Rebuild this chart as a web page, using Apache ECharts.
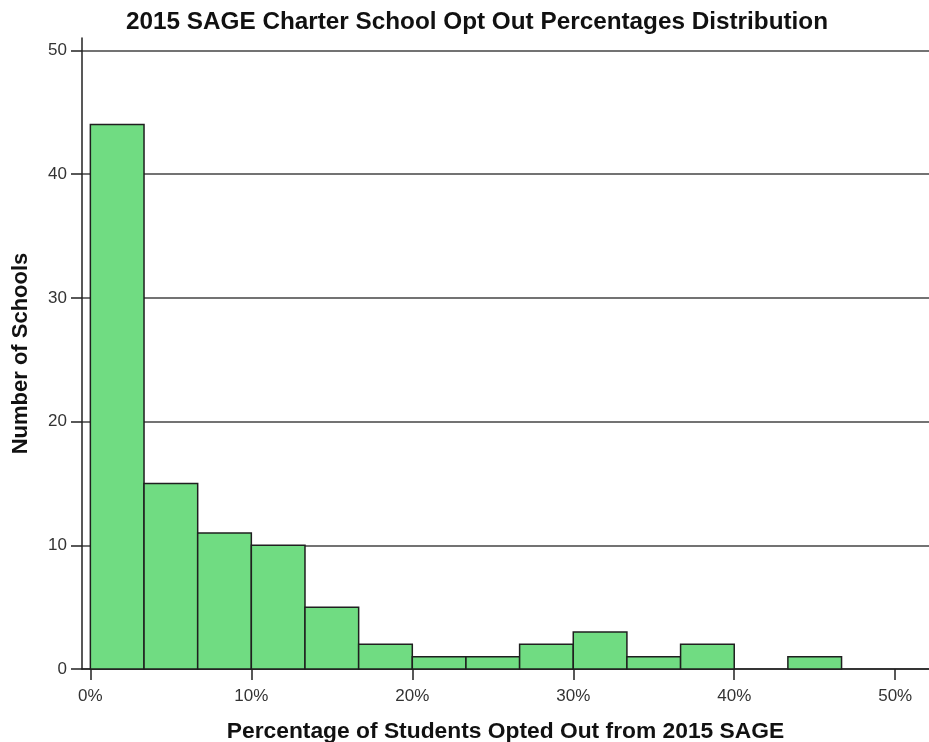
<!DOCTYPE html>
<html>
<head>
<meta charset="utf-8">
<script src="https://cdn.jsdelivr.net/npm/echarts@6/dist/echarts.min.js"></script>
<style>html,body{margin:0;padding:0;background:#fff}#c{width:929px;height:742px}</style>
</head>
<body>
<div id="c"></div>
<script>
const titleText = '2015 SAGE Charter School Opt Out Percentages Distribution';
const xName = 'Percentage of Students Opted Out from 2015 SAGE';
const yName = 'Number of Schools';
const binEdges = [0, 3.333, 6.667, 10, 13.333, 16.667, 20, 23.333, 26.667, 30, 33.333, 36.667, 40, 43.333, 46.667];
const counts = [44, 15, 11, 10, 5, 2, 1, 1, 2, 3, 1, 2, 0, 1];
const xTicks = [0, 10, 20, 30, 40, 50];
const yTicks = [0, 10, 20, 30, 40, 50];

const data = counts.map((c, i) => [binEdges[i], binEdges[i + 1], c]);
const font = '"Liberation Sans", Arial, sans-serif';

const chart = echarts.init(document.getElementById('c'));
chart.setOption({
  animation: false,
  backgroundColor: '#fff',
  title: {
    text: titleText, left: 472, top: 5, textAlign: 'center',
    textStyle: { fontFamily: font, fontSize: 24.3, fontWeight: 'bold', color: '#111' }
  },
  grid: { left: 82, top: 38, right: 0, bottom: 73, containLabel: false, outerBoundsMode: 'none' },
  xAxis: {
    type: 'value', min: -0.52, max: 52.1,
    name: xName, nameLocation: 'middle', nameGap: 51,
    nameTextStyle: { fontFamily: font, fontSize: 22.8, fontWeight: 'bold', color: '#111' },
    axisLine: { show: true, onZero: false, lineStyle: { color: '#222', width: 1.5 } },
    axisTick: { show: true, length: 11, customValues: xTicks, lineStyle: { color: '#222', width: 1.5 } },
    axisLabel: { customValues: xTicks, formatter: v => v + '%', margin: 19, fontFamily: font, fontSize: 17, color: '#333' },
    splitLine: { show: false }
  },
  yAxis: {
    type: 'value', min: 0, max: 51, interval: 10,
    name: yName, nameLocation: 'middle', nameGap: 50,
    nameTextStyle: { fontFamily: font, fontSize: 22, fontWeight: 'bold', color: '#111' },
    axisLine: { show: true, onZero: false, lineStyle: { color: '#222', width: 1.5 } },
    axisTick: { show: true, length: 11, customValues: yTicks, lineStyle: { color: '#222', width: 1.5 } },
    axisLabel: { customValues: yTicks, margin: 15, fontFamily: font, fontSize: 17, color: '#333' },
    splitLine: { show: true, lineStyle: { color: '#444', width: 1.5 } }
  },
  series: [{
    type: 'custom',
    data: data,
    encode: { x: [0, 1], y: 2 },
    renderItem: function (params, api) {
      const x0 = api.value(0), x1 = api.value(1), y = api.value(2);
      if (!y) return null;
      const p0 = api.coord([x0, y]);
      const p1 = api.coord([x1, 0]);
      return {
        type: 'rect',
        shape: { x: p0[0], y: p0[1], width: p1[0] - p0[0], height: p1[1] - p0[1] },
        style: { fill: '#70dc82', stroke: '#1f1f1f', lineWidth: 1.5 }
      };
    }
  }]
});
</script>
</body>
</html>
